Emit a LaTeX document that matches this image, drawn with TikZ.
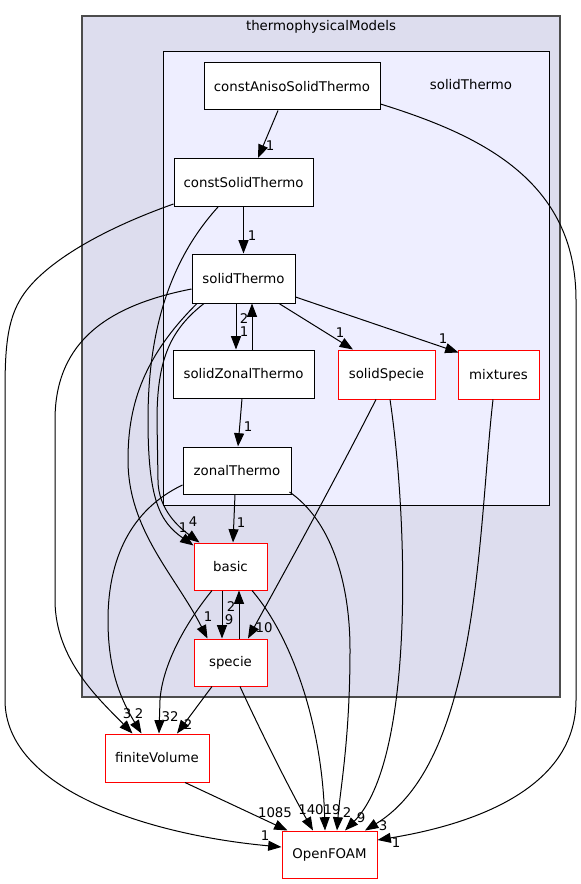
\documentclass[tikz,border=0pt]{standalone}
\usepackage{fontspec}
\setmainfont{DejaVu Sans}
\usetikzlibrary{arrows.meta,calc}
\tikzset{
  box/.style={draw=black, fill=white, line width=0.75pt, inner sep=0pt, font=\fontsize{10}{12}\selectfont},
  redbox/.style={box, draw=red},
  edge/.style={draw=black, line width=0.75pt, -{Triangle[length=10pt,width=7.5pt]}},
  lbl/.style={font=\fontsize{10}{12}\selectfont, inner sep=0pt}
}
\definecolor{outerfill}{HTML}{DDDDEE}
\definecolor{innerfill}{HTML}{EEEEFF}
\begin{document}
\begin{tikzpicture}[x=0.75pt,y=-0.75pt]
\useasboundingbox (0,0) rectangle (581,884);
% clusters
\draw[draw=black!70, fill=outerfill, line width=1.2pt] (82,16) rectangle (560,697);
\node[lbl] (tmlabel) at (321,27) {thermophysicalModels};
\draw[draw=black, fill=innerfill, line width=0.75pt] (163,52) rectangle (549,505);
\node[lbl] (stlabel) at (471,85) {solidThermo};
% nodes
\node[box, minimum width=132pt, minimum height=35.25pt] (cAST) at (292,86.5) {constAnisoSolidThermo};
\node[box, minimum width=104.25pt, minimum height=36pt] (cST) at (243.5,182.5) {constSolidThermo};
\node[box, minimum width=77.25pt, minimum height=36.75pt] (sT) at (243.5,278.5) {solidThermo};
\node[box, minimum width=105.75pt, minimum height=36pt] (sZT) at (243.5,374) {solidZonalThermo};
\node[box, minimum width=81pt, minimum height=35.25pt] (zT) at (237,470.5) {zonalThermo};
\node[redbox, minimum width=72.75pt, minimum height=36.75pt] (sS) at (386.5,374.5) {solidSpecie};
\node[redbox, minimum width=60.75pt, minimum height=36.75pt] (mix) at (498.5,374.5) {mixtures};
\node[redbox, minimum width=54.75pt, minimum height=35.25pt] (basic) at (230.5,566.5) {basic};
\node[redbox, minimum width=54.75pt, minimum height=35.25pt] (specie) at (230.5,662.5) {specie};
\node[redbox, minimum width=78pt, minimum height=36pt] (fV) at (157,758) {finiteVolume};
\node[redbox, minimum width=71.25pt, minimum height=35.25pt] (OF) at (329.5,854.5) {OpenFOAM};
% edges
\draw[edge] ($(cAST.south)+(-14,0)$) -- ($(cST.north)+(14.5,0)$);
\node[lbl] (l1) at (270,146) {1};
\draw[edge] ($(cAST.east)+(0,17.5)$) .. controls (480,135) and (576,180) .. (576,300) -- (576,700) .. controls (576,790) and (470,825) .. ($(OF.east)+(0,-14.5)$);
\node[lbl] (l2) at (396,843) {1};
\draw[edge] (cST.south) -- (sT.north);
\node[lbl] (l3) at (252,236) {1};
\draw[edge] ($(cST.west)+(0,21.5)$) .. controls (100,230) and (40,265) .. (20,300) .. controls (5,325) and (5,360) .. (5,400) -- (5,700) .. controls (5,790) and (150,835) .. ($(OF.west)+(0,-7.5)$);
\node[lbl] (l4) at (265,836) {1};
\draw[edge] ($(cST.south)+(-25.5,0)$) .. controls (170,260) and (148,330) .. (148,420) .. controls (148,500) and (160,522) .. ($(basic.north west)+(0,3)$);
\node[lbl] (l5) at (183,528) {1};
\draw[edge] ($(sT.south)+(-39.5,0)$) .. controls (170,330) and (157,360) .. (157,420) -- (158,480) .. controls (158,510) and (180,528) .. ($(basic.north west)+(6,0)$);
\node[lbl] (l6) at (193,522) {4};
\draw[edge] ($(sT.south)+(-7.5,0)$) -- ($(sZT.north)+(-7.5,0)$);
\node[lbl] (l7) at (244,332) {1};
\draw[edge] ($(sZT.north)+(8.5,0)$) -- ($(sT.south)+(8.5,0)$);
\node[lbl] (l8) at (244,319) {2};
\draw[edge] ($(sT.south)+(35.5,0)$) -- ($(sS.north)+(-33.5,0)$);
\node[lbl] (l9) at (340,333) {1};
\draw[edge] ($(sT.east)+(0,18.5)$) -- ($(mix.north west)+(1,3)$);
\node[lbl] (l10) at (443,339) {1};
\draw[edge] ($(sT.south)+(-46.5,0)$) .. controls (140,360) and (128,410) .. (128,460) .. controls (128,530) and (175,575) .. ($(specie.north west)+(14,0)$);
\node[lbl] (l11) at (208,617) {1};
\draw[edge] ($(sT.west)+(0,10.5)$) .. controls (110,305) and (55,340) .. (55,420) -- (55,600) .. controls (55,660) and (100,700) .. ($(fV.north west)+(28,0)$);
\node[lbl] (l12) at (127,714) {3};
\draw[edge] ($(zT.west)+(0,14.5)$) .. controls (130,510) and (108,560) .. (108,620) .. controls (108,665) and (118,695) .. ($(fV.north west)+(37,0)$);
\node[lbl] (l13) at (139,714) {2};
\draw[edge] ($(sZT.south)+(-1.5,0)$) -- ($(zT.north)+(1,0)$);
\node[lbl] (l14) at (248,427) {1};
\draw[edge] ($(zT.south)+(-2,0)$) -- ($(basic.north)+(2.5,0)$);
\node[lbl] (l15) at (241,523) {1};
\draw[edge] ($(zT.east)+(-2,21.5)$) .. controls (330,520) and (350,580) .. (350,650) .. controls (350,740) and (340,790) .. ($(OF.north)+(7.5,0)$);
\node[lbl] (l16) at (347,813) {2};
\draw[edge] ($(basic.south)+(-8.5,0)$) -- ($(specie.north)+(-8.5,0)$);
\node[lbl] (l17) at (229,620) {9};
\draw[edge] ($(specie.north)+(8.5,0)$) -- ($(basic.south)+(8.5,0)$);
\node[lbl] (l18) at (231,607) {2};
\draw[edge] ($(basic.south)+(-18.5,0)$) .. controls (180,630) and (162,670) .. (160,700) -- ($(fV.north)+(2,0)$);
\node[lbl] (l19) at (170,717) {32};
\draw[edge] ($(basic.south)+(21.5,0)$) .. controls (290,635) and (322,720) .. ($(OF.north)+(-4.5,0)$);
\node[lbl] (l20) at (332,810) {19};
\draw[edge] ($(specie.south)+(-18.5,0)$) -- ($(fV.north)+(20,0)$);
\node[lbl] (l21) at (188,725) {2};
\draw[edge] ($(specie.south)+(9.5,0)$) .. controls (260,730) and (290,790) .. ($(OF.north)+(-16.5,0)$);
\node[lbl] (l22) at (311,810) {140};
\draw[edge] ($(sS.south)+(-10.5,0)$) .. controls (330,490) and (280,580) .. ($(specie.north)+(17.5,0)$);
\node[lbl] (l23) at (264,628) {10};
\draw[edge] ($(sS.south)+(3.5,0)$) .. controls (408,520) and (415,760) .. ($(OF.north)+(15.5,0)$);
\node[lbl] (l24) at (361,818) {9};
\draw[edge] ($(mix.south)+(-5.5,0)$) .. controls (478,530) and (480,760) .. ($(OF.north)+(35.5,0)$);
\node[lbl] (l25) at (383,826) {3};
\draw[edge] ($(fV.south)+(28,0)$) -- ($(OF.north west)+(6,0)$);
\node[lbl] (l26) at (275,813) {1085};
\end{tikzpicture}
\end{document}
